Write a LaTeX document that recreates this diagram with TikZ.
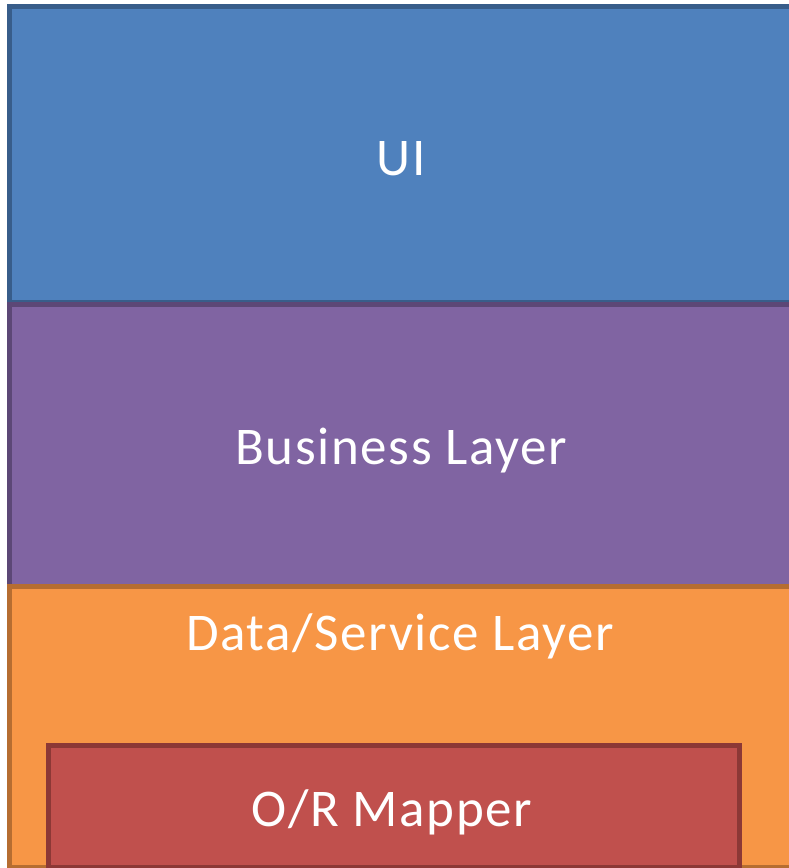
\documentclass[tikz,border=0pt]{standalone}
\usepackage{fontspec}
\setmainfont{Carlito}[LetterSpace=3]
\definecolor{uifill}{HTML}{4F81BD}
\definecolor{uiline}{HTML}{385D8A}
\definecolor{bizfill}{HTML}{8064A2}
\definecolor{bizline}{HTML}{5C4776}
\definecolor{datafill}{HTML}{F79646}
\definecolor{dataline}{HTML}{B66D31}
\definecolor{ormfill}{HTML}{C0504D}
\definecolor{ormline}{HTML}{8C3836}
\tikzset{
  layer/.style={line width=5pt},
  lbl/.style={text=white, font=\fontsize{53}{60}\selectfont, inner sep=0pt, anchor=base}
}
\begin{document}
\begin{tikzpicture}[x=1pt,y=-1pt]
\useasboundingbox (0,0) rectangle (789,868);
\clip (0,0) rectangle (789,868);
\draw[layer, fill=uifill, draw=uiline] (9.5,6.5) rectangle (810,302);
\draw[layer, fill=bizfill, draw=bizline] (9.5,304.5) rectangle (810,586);
\draw[layer, fill=datafill, draw=dataline] (9.5,586) rectangle (810,867);
\draw[layer, fill=ormfill, draw=ormline] (48,745) rectangle (739.5,867);
\node[lbl] (ui) at (401,175) {UI};
\node[lbl] (biz) at (401,464) {Business Layer};
\node[lbl] (data) at (400,650) {Data/Service Layer};
\node[lbl] (orm) at (392,826) {O/R Mapper};
\end{tikzpicture}
\end{document}
